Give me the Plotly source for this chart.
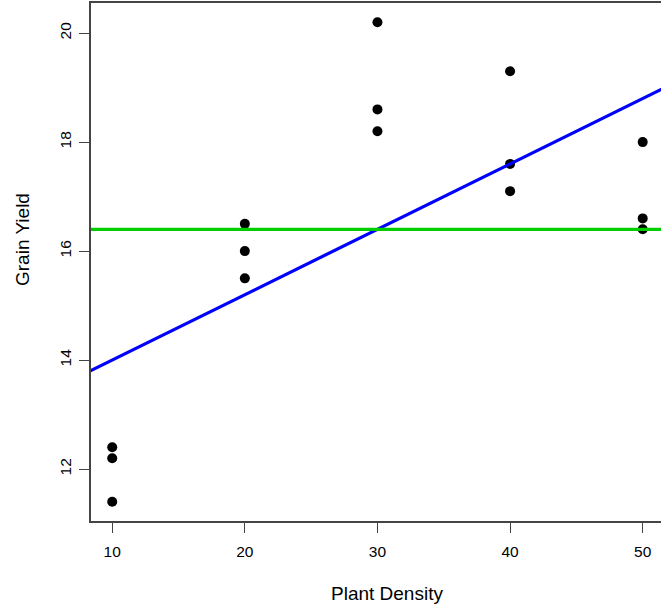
import numpy as np
import plotly.graph_objects as go

# Data
plant_density = [10, 10, 10, 20, 20, 20, 30, 30, 30, 40, 40, 40, 50, 50, 50]
grain_yield = [12.4, 12.2, 11.4, 16.5, 16.0, 15.5, 20.2, 18.6, 18.2,
               19.3, 17.6, 17.1, 18.0, 16.6, 16.4]
x_ticks = [10, 20, 30, 40, 50]
y_ticks = [12, 14, 16, 18, 20]

x = np.array(plant_density, dtype=float)
y = np.array(grain_yield, dtype=float)
slope, intercept = np.polyfit(x, y, 1)
mean_y = y.mean()

span_x = x.max() - x.min()
x_lo, x_hi = x.min() - 0.04 * span_x, x.max() + 0.04 * span_x
span_y = y.max() - y.min()
y_lo, y_hi = y.min() - 0.04 * span_y, y.max() + 0.04 * span_y

line_x = np.array([x_lo - 5, x_hi + 5])

fig = go.Figure()
fig.add_trace(go.Scatter(x=x, y=y, mode="markers",
                         marker=dict(color="black", size=10, line=dict(width=0)),
                         showlegend=False))
fig.add_trace(go.Scatter(x=line_x, y=intercept + slope * line_x, mode="lines",
                         line=dict(color="#0000FF", width=3.2), showlegend=False))
fig.add_trace(go.Scatter(x=line_x, y=[mean_y, mean_y], mode="lines",
                         line=dict(color="#00CD00", width=3.2), showlegend=False))

font_family = "Liberation Sans, Arial, sans-serif"
pl, pr, pt, pb = 91, 661, 3, 611 - 90
pw, ph = pr - pl, pb - pt

fig.update_layout(
    width=661, height=611,
    margin=dict(l=pl, r=661 - pr, t=pt, b=611 - pb),
    paper_bgcolor="white", plot_bgcolor="white",
    font=dict(family=font_family, color="black"),
    xaxis=dict(range=[x_lo, 51.38], tickvals=x_ticks, showgrid=False, zeroline=False,
               showline=True, linecolor="#444444", linewidth=1.5, mirror=True,
               ticks="outside", ticklen=10, tickcolor="#444444", tickwidth=1.2,
               tickfont=dict(size=15.5, family=font_family, color="black"),
               ticklabelstandoff=6),
    yaxis=dict(range=[y_lo, y_hi], tickvals=y_ticks, showgrid=False, zeroline=False,
               showline=True, linecolor="#444444", linewidth=1.5, mirror=False,
               ticks="outside", ticklen=10, tickcolor="#444444", tickwidth=1.2,
               tickangle=-90,
               tickfont=dict(size=15.5, family=font_family, color="black"),
               ticklabelstandoff=2),
    annotations=[
        dict(text="Plant Density", x=(387 - pl) / pw, y=(pb - 593) / ph,
             xref="paper", yref="paper", showarrow=False,
             xanchor="center", yanchor="middle",
             font=dict(size=19, family=font_family, color="black")),
        dict(text="Grain Yield", x=(22 - pl) / pw, y=(pb - 240) / ph,
             xref="paper", yref="paper", showarrow=False, textangle=-90,
             xanchor="center", yanchor="middle",
             font=dict(size=19, family=font_family, color="black")),
    ],
)

fig.write_html("out.html", config={"displayModeBar": False},
               post_script="document.body.style.margin='0';document.body.style.overflow='hidden';")
